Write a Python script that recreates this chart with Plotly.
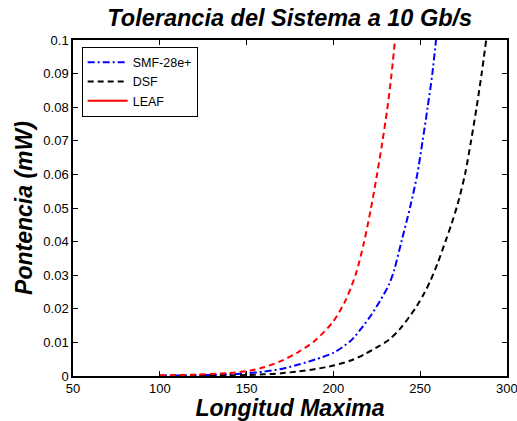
import plotly.graph_objects as go

# Longitud (km) vs potencia (mW) para cada fibra
smf_x = [100, 120, 140, 150, 160, 170, 180, 190, 200, 210, 217, 222, 227, 232, 235, 239.3,
         244.3, 248.3, 251.4, 254.3, 257, 259.1]
smf_y = [0.0001, 0.0002, 0.0005, 0.0008, 0.0013, 0.0021, 0.0034, 0.0050, 0.0069, 0.0105,
         0.0148, 0.0183, 0.0225, 0.0272, 0.0315, 0.0402, 0.0505, 0.060, 0.070, 0.080, 0.090,
         0.100]

dsf_x = [100, 120, 140, 150, 160, 170, 180, 190, 200, 210, 218, 226, 232, 238, 244, 248,
         252, 256, 260, 264.5, 268, 271.5, 275.8, 279.3, 282.5, 285.4, 288]
dsf_y = [0.0000, 0.0001, 0.0002, 0.0003, 0.0005, 0.0008, 0.0014, 0.0021, 0.0031, 0.0046,
         0.0065, 0.0088, 0.0108, 0.0138, 0.0178, 0.0208, 0.0243, 0.0285, 0.0335, 0.040,
         0.0452, 0.051, 0.060, 0.070, 0.080, 0.090, 0.100]

leaf_x = [100, 120, 140, 152, 160, 170, 180, 190, 200, 207, 213, 217.5, 221.3, 224.8, 228,
          230.9, 233.3, 235.5]
leaf_y = [0.0002, 0.0004, 0.0009, 0.0016, 0.0026, 0.0045, 0.0072, 0.0108, 0.0163, 0.0225,
          0.0305, 0.0395, 0.049, 0.059, 0.069, 0.079, 0.089, 0.100]

x_ticks = [50, 100, 150, 200, 250, 300]
y_ticks = [0, 0.01, 0.02, 0.03, 0.04, 0.05, 0.06, 0.07, 0.08, 0.09, 0.1]
y_tick_text = ["0", "0.01", "0.02", "0.03", "0.04", "0.05", "0.06", "0.07", "0.08", "0.09", "0.1"]

FONT = "Liberation Sans, Arial, sans-serif"
TICK_SIZE = 13

fig = go.Figure()
fig.add_trace(go.Scatter(x=smf_x, y=smf_y, mode="lines", name="SMF-28e+",
                         line=dict(color="#0000ff", width=2, dash="7px,3px,2px,3px",
                                   shape="spline", smoothing=0.8)))
fig.add_trace(go.Scatter(x=dsf_x, y=dsf_y, mode="lines", name="DSF",
                         line=dict(color="#000000", width=2, dash="6px,4px",
                                   shape="spline", smoothing=0.8)))
fig.add_trace(go.Scatter(x=leaf_x, y=leaf_y, mode="lines", name="LEAF", showlegend=False,
                         line=dict(color="#ff0000", width=2, dash="6px,4px",
                                   shape="spline", smoothing=0.8)))
# legend entry for LEAF drawn as a solid line
fig.add_trace(go.Scatter(x=[None], y=[None], mode="lines", name="LEAF",
                         line=dict(color="#ff0000", width=2)))

axis_common = dict(
    showline=True, linecolor="black", linewidth=1.5, mirror="ticks",
    ticks="inside", ticklen=5, tickwidth=1, tickcolor="black",
    showgrid=False, zeroline=False, automargin=False,
    tickfont=dict(family=FONT, size=TICK_SIZE, color="black"),
)

fig.update_layout(
    width=517, height=421,
    margin=dict(l=73, r=10, t=40, b=45),
    paper_bgcolor="white", plot_bgcolor="white",
    title=dict(text="<b><i>Tolerancia del Sistema a 10 Gb/s</i></b>",
               x=0.5605, xanchor="center", y=0.977, yanchor="top",
               font=dict(family=FONT, size=23.5, color="black")),
    xaxis=dict(range=[50, 300], tickvals=x_ticks,
               title=dict(text="<b><i>Longitud Maxima</i></b>", standoff=0,
                          font=dict(family=FONT, size=23, color="black")),
               **axis_common),
    yaxis=dict(range=[0, 0.1], tickvals=y_ticks, ticktext=y_tick_text,
               title=dict(text="<b><i>Pontencia (mW)</i></b>", standoff=4,
                          font=dict(family=FONT, size=23, color="black")),
               **axis_common),
    legend=dict(x=0.02, y=0.98, xanchor="left", yanchor="top",
                bgcolor="white", bordercolor="black", borderwidth=1,
                itemwidth=40,
                font=dict(family=FONT, size=12.5, color="black"),
                tracegroupgap=0),
    showlegend=True,
)

# the last x tick label sits on the figure edge, so it is placed as an annotation
fig.add_annotation(x=x_ticks[-1], y=0, xref="x", yref="paper",
                   text=str(x_ticks[-1]), showarrow=False,
                   xanchor="center", yanchor="top", yshift=-3,
                   font=dict(family=FONT, size=TICK_SIZE, color="black"))

fig.write_html("out.html")
